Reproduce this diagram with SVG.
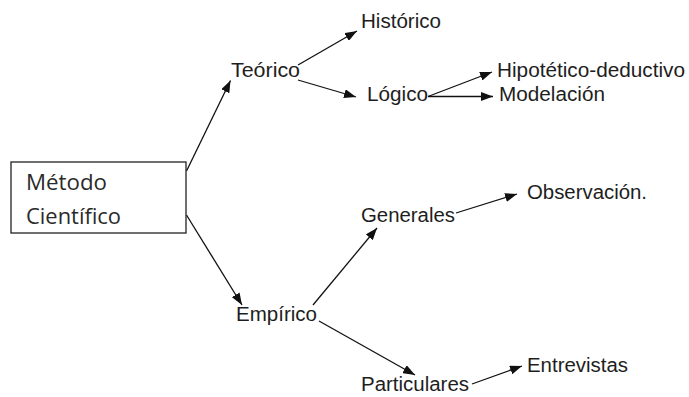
<svg xmlns="http://www.w3.org/2000/svg" width="689" height="397" viewBox="0 0 689 397">
  <defs>
    <marker id="arrow" markerUnits="userSpaceOnUse" markerWidth="12" markerHeight="9" viewBox="0 0 12 9" refX="12" refY="4.5" orient="auto">
      <path d="M0,0 L12,4.5 L0,9 Z" fill="#111"/>
    </marker>
  </defs>
  <style>
    .lbl { font-family: "Liberation Sans", Arial, sans-serif; font-size: 19.5px; fill: #1e1e1e; }
    .box { fill: #fff; stroke: #222; stroke-width: 1.3; }
    .boxtxt { font-family: "Open Sans", "Noto Sans", sans-serif; font-size: 21px; fill: #2a2a2a; }
    .edge { stroke: #111; stroke-width: 1.3; fill: none; marker-end: url(#arrow); }
  </style>
  <rect width="689" height="397" fill="#fff"/>

  <!-- connectors -->
  <g id="connectors">
    <line class="edge" x1="186.5" y1="171" x2="230.5" y2="80.5"/>
    <line class="edge" x1="186.5" y1="215" x2="242" y2="305"/>
    <line class="edge" x1="298" y1="65" x2="357" y2="31"/>
    <line class="edge" x1="298" y1="80" x2="356" y2="97"/>
    <line class="edge" x1="428" y1="96.5" x2="492" y2="72"/>
    <line class="edge" x1="428" y1="96.5" x2="493" y2="96.5"/>
    <line class="edge" x1="313" y1="305" x2="377" y2="228"/>
    <line class="edge" x1="456" y1="213" x2="517" y2="194"/>
    <line class="edge" x1="319" y1="321" x2="415" y2="375"/>
    <line class="edge" x1="472" y1="384" x2="522" y2="366"/>
  </g>

  <!-- nodes -->
  <g id="metodo">
    <rect class="box" x="11" y="162" width="175" height="71"/>
    <text class="boxtxt" x="26" y="190" textLength="81" lengthAdjust="spacingAndGlyphs">Método</text>
    <text class="boxtxt" x="26" y="224" textLength="95" lengthAdjust="spacingAndGlyphs">Científico</text>
  </g>
  <g id="teorico">
    <text class="lbl" x="231" y="77" textLength="69" lengthAdjust="spacingAndGlyphs">Teórico</text>
  </g>
  <g id="historico">
    <text class="lbl" x="361" y="28" textLength="80" lengthAdjust="spacingAndGlyphs">Histórico</text>
  </g>
  <g id="logico">
    <text class="lbl" x="367" y="101" textLength="61" lengthAdjust="spacingAndGlyphs">Lógico</text>
  </g>
  <g id="hipotetico">
    <text class="lbl" x="497" y="77" textLength="188" lengthAdjust="spacingAndGlyphs">Hipotético-deductivo</text>
  </g>
  <g id="modelacion">
    <text class="lbl" x="499" y="101" textLength="106" lengthAdjust="spacingAndGlyphs">Modelación</text>
  </g>
  <g id="empirico">
    <text class="lbl" x="236" y="321" textLength="81" lengthAdjust="spacingAndGlyphs">Empírico</text>
  </g>
  <g id="generales">
    <text class="lbl" x="361" y="222" textLength="94" lengthAdjust="spacingAndGlyphs">Generales</text>
  </g>
  <g id="observacion">
    <text class="lbl" x="527" y="199" textLength="120" lengthAdjust="spacingAndGlyphs">Observación.</text>
  </g>
  <g id="particulares">
    <text class="lbl" x="361" y="391" textLength="108" lengthAdjust="spacingAndGlyphs">Particulares</text>
  </g>
  <g id="entrevistas">
    <text class="lbl" x="527" y="372" textLength="101" lengthAdjust="spacingAndGlyphs">Entrevistas</text>
  </g>
</svg>
